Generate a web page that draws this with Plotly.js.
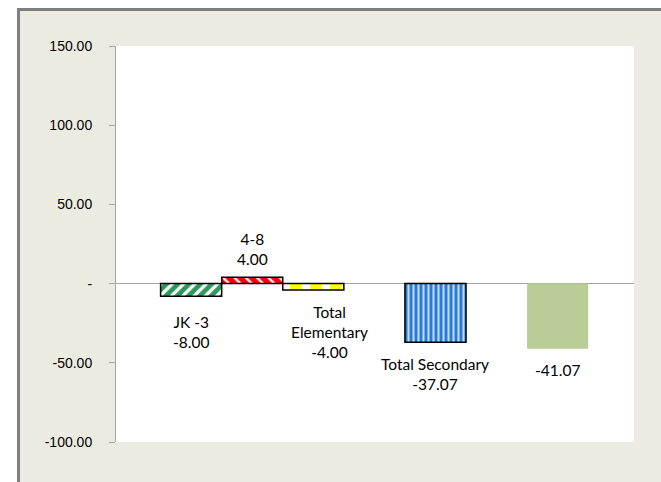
<!DOCTYPE html>
<html>
<head>
<meta charset="utf-8">
<script src="https://cdn.plot.ly/plotly-3.0.1.min.js"></script>
<style>
  html, body { margin: 0; padding: 0; background: #ffffff; width: 661px; height: 482px; overflow: hidden; }
  #frame { position: absolute; left: 17px; top: 8px; width: 644px; height: 474px;
           border-left: 3px solid #7f7f7f; border-top: 3px solid #7f7f7f; background: #ECEBE1; }
  #chart { position: absolute; left: 0; top: 0; width: 641px; height: 471px; }
</style>
</head>
<body>
<div id="frame"><div id="chart"></div></div>
<script>
// ---- data ----
const categories = ["JK -3", "4-8", "Total<br>Elementary", "Total Secondary", ""];
const values = [-8.00, 4.00, -4.00, -37.07, -41.07];
const tickValues = [150, 100, 50, 0, -50, -100];
const tickLabels = ["150.00", "100.00", "50.00", "-", "-50.00", "-100.00"];

// ---- layout helpers (positions / styles) ----
const slots = [0, 1, 2, 4, 6];
const fills = ["#2A9A5A", "#FF0000", "#FFFF00", "#2A7BD6", "#B9CD96"];
const fgs = ["#ffffff", "#ffffff", "#ffffff", "#C4DDF6", "#B9CD96"];
const shapes = ["/", "\\", "|", "|", ""];
const psize = [8, 8, 20, 5, 8];
const psol = [0.4, 0.3, 0.4, 0.4, 0.5];
const lineW = [1.5, 1.5, 1.5, 1.5, 0];
const labelAnchor = ["top", "bottom", "top", "top", "top"];
const labelYShift = [-15, 7, -11, -11, -10];
const labelXShift = [0, 0, 16, 0, 0];

const traces = values.map((v, i) => ({
  type: "bar",
  x: [slots[i]],
  y: [v],
  width: 1,
  marker: {
    color: fills[i],
    line: { color: "#000000", width: lineW[i] },
    pattern: { shape: shapes[i], fgcolor: fgs[i], bgcolor: fills[i], size: psize[i], solidity: psol[i], fillmode: "replace" }
  },
  hoverinfo: "none",
  showlegend: false
}));

const annotations = values.map((v, i) => ({
  x: slots[i], y: v, xref: "x", yref: "y",
  text: (categories[i] ? categories[i] + "<br>" : "") + v.toFixed(2),
  showarrow: false,
  yanchor: labelAnchor[i],
  xanchor: "center",
  yshift: labelYShift[i],
  xshift: labelXShift[i],
  font: { family: "Lato, 'Open Sans', sans-serif", size: 15.5, color: "#000000" }
}));

const layout = {
  width: 641, height: 471,
  margin: { l: 96, r: 27, t: 35, b: 40, pad: 0 },
  paper_bgcolor: "rgba(0,0,0,0)",
  plot_bgcolor: "#ffffff",
  barmode: "overlay",
  xaxis: { range: [-1.23, 7.25], showticklabels: false, showgrid: false, zeroline: false, showline: false, ticks: "", fixedrange: true },
  yaxis: {
    range: [-100, 150], tickvals: tickValues, ticktext: tickLabels,
    showgrid: false, zeroline: true, zerolinecolor: "#A6A6A6", zerolinewidth: 1.5,
    showline: true, linecolor: "#A6A6A6", linewidth: 1,
    ticks: "outside", ticklen: 6, tickcolor: "#A6A6A6", ticklabelstandoff: 14,
    tickfont: { family: "'Liberation Sans', Arial, sans-serif", size: 14, color: "#000000" },
    fixedrange: true
  },
  annotations: annotations,
  font: { family: "Lato, sans-serif" }
};

Plotly.newPlot("chart", traces, layout, { displayModeBar: false, staticPlot: true });
</script>
</body>
</html>
